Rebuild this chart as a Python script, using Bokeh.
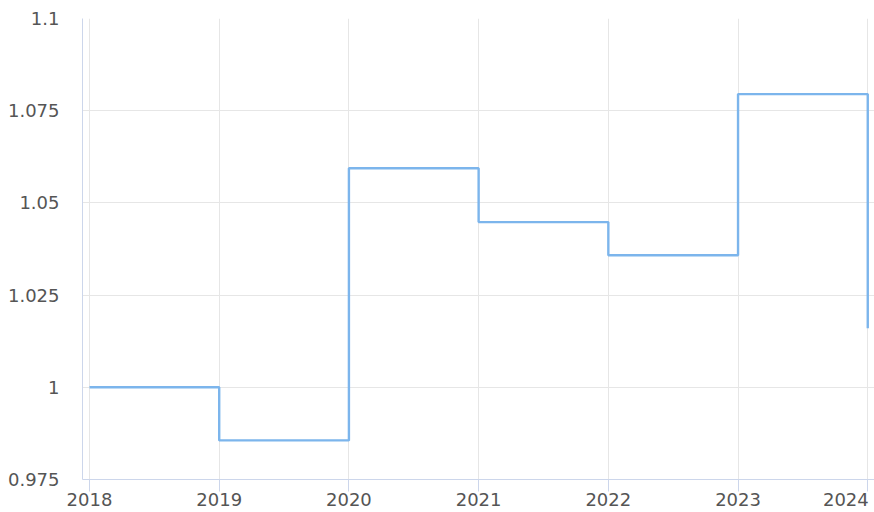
from bokeh.plotting import figure
from bokeh.models import FixedTicker, Range1d
from bokeh.embed import file_html
from bokeh.resources import INLINE

years = [2018, 2019, 2020, 2021, 2022, 2023, 2024]
values = [1.0, 0.9856, 1.0594, 1.0448, 1.0358, 1.0795, 1.016]

y_ticks = [0.975, 1.0, 1.025, 1.05, 1.075, 1.1]
y_tick_labels = ["0.975", "1", "1.025", "1.05", "1.075", "1.1"]
x_tick_labels = ["2018", "2019", "2020", "2021", "2022", "2023", "2024"]

FONT = "DejaVu Sans"
LABEL_SIZE = "18px"
LABEL_COLOR = "#555555"
AXIS_COLOR = "#ccd6eb"
GRID_COLOR = "#e6e6e6"

p = figure(width=874, height=512, output_backend="svg", toolbar_location=None,
           x_range=Range1d(2017.946, 2024.052), y_range=Range1d(0.975, 1.1),
           min_border_left=82, min_border_right=0, min_border_top=18, min_border_bottom=33)
p.outline_line_color = None
p.background_fill_color = "white"
p.border_fill_color = "white"

p.step(years, values, mode="after", line_color="#7cb5ec", line_width=2.4)

# x axis (last label pulled inward, as in the reference, with non-breaking padding)
overrides = {}
for y, l in zip(years, x_tick_labels):
    overrides[y] = l if y != years[-1] else l + "\u00a0"
xa = p.xaxis[0]
xa.ticker = FixedTicker(ticks=years)
xa.major_label_overrides = overrides
xa.axis_line_color = AXIS_COLOR
xa.major_tick_line_color = AXIS_COLOR
xa.major_tick_out = 12
xa.major_tick_in = 0
xa.minor_tick_line_color = None
xa.major_label_standoff = -3
xa.major_label_text_font = FONT
xa.major_label_text_font_size = LABEL_SIZE
xa.major_label_text_color = LABEL_COLOR

# y axis
ya = p.yaxis[0]
ya.ticker = FixedTicker(ticks=y_ticks)
ya.major_label_overrides = {t: l for t, l in zip(y_ticks, y_tick_labels)}
ya.axis_line_color = AXIS_COLOR
ya.major_tick_line_color = None
ya.major_tick_out = 0
ya.major_tick_in = 0
ya.minor_tick_line_color = None
ya.major_label_standoff = 23
ya.major_label_text_font = FONT
ya.major_label_text_font_size = LABEL_SIZE
ya.major_label_text_color = LABEL_COLOR

p.xgrid.grid_line_color = GRID_COLOR
p.ygrid.grid_line_color = GRID_COLOR
p.xgrid.grid_line_width = 1
p.ygrid.grid_line_width = 1

open("out.html", "w").write(file_html(p, INLINE))
